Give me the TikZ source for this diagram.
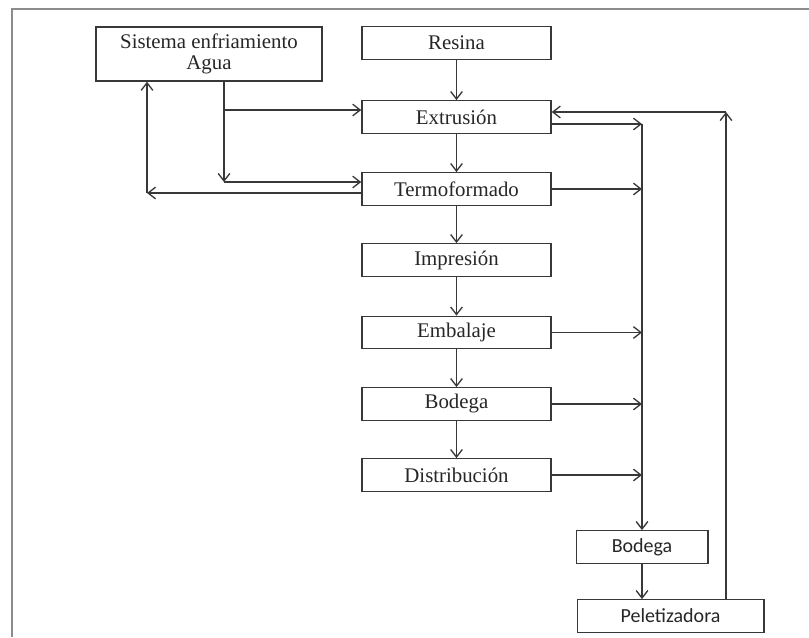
\documentclass[tikz,border=0pt]{standalone}
\usepackage{fontspec}
\setmainfont{Liberation Serif}
\newfontfamily\labelsans{Carlito}
\usetikzlibrary{arrows.meta}
\begin{document}
\begin{tikzpicture}[x=0.6pt,y=-0.6pt,
    line width=0.8pt, draw=black!78, >={Straight Barb[length=4.5pt,width=7pt]},
    stage/.style={draw, rectangle, inner sep=0pt, minimum width=113.5pt,
        minimum height=19.5pt, font=\fontsize{12.5}{14}\selectfont, text=black!85},
    frame/.style={draw=black!45, line width=1.3pt}]
                \useasboundingbox (0,0) rectangle (809,637);
                \draw[frame] (12,637) -- (12,9) -- (809,9);

                \node[stage, minimum width=135.5pt, minimum height=32.5pt, align=center] (sistema) at (209,54) {Sistema enfriamiento\\[-1pt]Agua};
                \node[stage] (resina) at (456.5,43) {Resina};
                \node[stage] (extrusion) at (456.5,117) {Extrusión};
                \node[stage] (termo) at (456.5,189) {Termoformado};
                \node[stage] (impresion) at (456.5,260) {Impresión};
                \node[stage] (embalaje) at (456.5,332.5) {Embalaje};
                \node[stage] (bodega) at (456.5,404) {Bodega};
                \node[stage] (distribucion) at (456.5,475) {Distribución};
                \node[stage, minimum width=79pt, font=\labelsans\fontsize{12}{14}\selectfont] (bodegab) at (642,547) {Bodega};
                \node[stage, minimum width=112pt, font=\labelsans\fontsize{12}{14}\selectfont] (peletizadora) at (670.5,616) {Peletizadora};

                \coordinate (colA) at (642,124);
                \coordinate (ret) at (726,112);
                \coordinate (aguaA) at (224,110);
                \coordinate (aguaB) at (224,182);
                \coordinate (aguaC) at (147,193);

                \draw[->] (resina) to (extrusion);
                \draw[->] (extrusion) to (termo);
                \draw[->] (termo) to (impresion);
                \draw[->] (impresion) to (embalaje);
                \draw[->] (embalaje) to (bodega);
                \draw[->] (bodega) to (distribucion);
                \draw[->] (bodegab.south) to (bodegab.south |- peletizadora.north);

                \draw[->] (extrusion.east |- colA) to (colA);
                \draw[->] (termo.east) to (termo.east -| colA);
                \draw[->] (embalaje.east) to (embalaje.east -| colA);
                \draw[->] (bodega.east) to (bodega.east -| colA);
                \draw[->] (distribucion.east) to (distribucion.east -| colA);
                \draw[->] (colA) to (bodegab.north);

                \draw[->] (peletizadora.north -| ret) to (ret);
                \draw[->] (ret) to (extrusion.east |- ret);

                \draw[->] (sistema.south -| aguaB) to (aguaB);
                \draw[->] (aguaB) to (termo.west |- aguaB);
                \draw[->] (aguaA) to (extrusion.west |- aguaA);
                \draw[->] (termo.west |- aguaC) to (aguaC);
                \draw[->] (aguaC) to (sistema.south -| aguaC);
            \end{tikzpicture}
\end{document}
